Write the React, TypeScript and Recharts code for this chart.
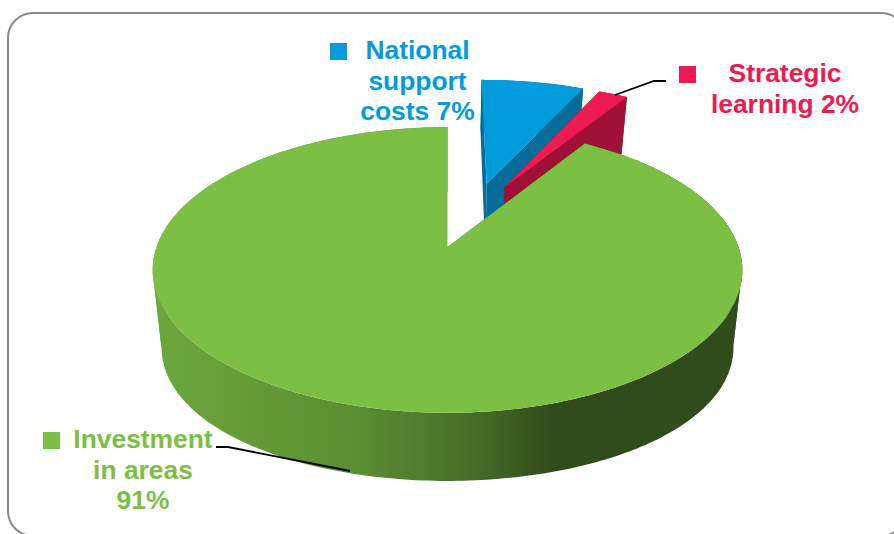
import { PieChart, Pie } from 'recharts'

const SLICE_NAMES = ['National support costs', 'Strategic learning', 'Investment in areas']
const SLICE_VALUES = [7, 2, 91]
const SLICE_COLORS = ['#009cdc', '#ed1b51', '#7bc043']
const SIDE_COLORS = ['#066d9b', '#a00f36', 'url(#greenWall)']

// label lines, one list per slice
const LABEL_LINES = [
  ['National', 'support', 'costs 7%'],
  ['Strategic', 'learning 2%'],
  ['Investment', 'in areas', '91%'],
]
const LABEL_LAYOUT = [
  { x: 417.5, y: 59, swatchX: 330, swatchY: 43, step: 30.5 },
  { x: 785, y: 82, swatchX: 679, swatchY: 66, step: 31 },
  { x: 143, y: 448, swatchX: 43, swatchY: 432, step: 30.5 },
]
const LEADERS = ['', '615,95 654,81 666,81', '216,447 228,447 350,471']

// how far each slice is pulled out of the pie, in radius units
const EXPLODE = [
  { u: 0.145, v: 0.49 },
  { u: 0.21, v: 0.46 },
  { u: 0, v: 0 },
]

// tilted-disc projection
const ASPECT = 0.478
const PERSPECTIVE = 0.161
const SHRINK = 0.03

// wall height is tallest just in front of the widest point and falls off both ways
const wallHeight = (v: number) => 78 - 10 * (v + 0.3) * (v + 0.3)

const tableData = SLICE_NAMES.map((name, i) => ({ name, value: SLICE_VALUES[i] }))

function makeProjector(cx: number, cy: number, r: number, offset: { u: number; v: number }) {
  return (u: number, v: number, z: number) => {
    const pu = u + offset.u
    const pv = v + offset.v
    const w = 1 + PERSPECTIVE * pv
    const s = 1 - SHRINK * z
    const x = cx + (r * pu * s) / w
    const y = cy - (r * ASPECT * pv * s) / w + wallHeight(pv) * z
    return `${x.toFixed(1)},${y.toFixed(1)}`
  }
}

function Slice3D(props: any) {
  const { cx, cy, outerRadius, startAngle, endAngle, name } = props
  const i = SLICE_NAMES.indexOf(name ?? props.payload?.name)
  const offset = EXPLODE[i]
  const p = makeProjector(cx, cy, outerRadius, offset)

  // recharts angles run counter-clockwise from 3 o'clock
  const from = 90 - startAngle
  const to = 90 - endAngle
  const arc: [number, number][] = []
  const steps = Math.max(2, Math.ceil(to - from))
  for (let k = 0; k <= steps; k++) {
    const t = ((from + ((to - from) * k) / steps) * Math.PI) / 180
    arc.push([Math.sin(t), Math.cos(t)])
  }
  const first = arc[0]
  const last = arc[arc.length - 1]

  // the outer wall winds the other way past the widest point, so each stretch gets its own polygon
  const runs: [number, number][][] = []
  let facing: boolean | null = null
  arc.forEach((pt, k) => {
    const front = pt[1] + offset.v < -PERSPECTIVE
    if (front !== facing) {
      runs.push(k > 0 ? [arc[k - 1]] : [])
      facing = front
    }
    runs[runs.length - 1].push(pt)
  })

  const top = [p(0, 0, 0), ...arc.map(([u, v]) => p(u, v, 0))].join(' ')
  const faceA = [p(0, 0, 0), p(first[0], first[1], 0), p(first[0], first[1], 1), p(0, 0, 1)].join(' ')
  const faceB = [p(0, 0, 0), p(last[0], last[1], 0), p(last[0], last[1], 1), p(0, 0, 1)].join(' ')

  return (
    <g>
      <polygon points={faceA} fill={SIDE_COLORS[i]} />
      <polygon points={faceB} fill={SIDE_COLORS[i]} />
      {runs.map((run, k) => (
        <polygon
          key={k}
          points={[...run.map(([u, v]) => p(u, v, 0)), ...[...run].reverse().map(([u, v]) => p(u, v, 1))].join(' ')}
          fill={SIDE_COLORS[i]}
        />
      ))}
      <polygon points={top} fill={SLICE_COLORS[i]} />
    </g>
  )
}

function SliceLabel(props: any) {
  const i = props.index
  const layout = LABEL_LAYOUT[i]
  return (
    <g>
      {LEADERS[i] && <polyline points={LEADERS[i]} fill="none" stroke="#000" strokeWidth={1.8} />}
      <rect x={layout.swatchX} y={layout.swatchY} width={17} height={17} fill={SLICE_COLORS[i]} />
      {LABEL_LINES[i].map((line, k) => (
        <text
          key={line}
          x={layout.x}
          y={layout.y + k * layout.step}
          textAnchor="middle"
          fill={SLICE_COLORS[i]}
          fontFamily="'Liberation Sans', Arial, sans-serif"
          fontWeight={700}
          fontSize={26.4}
        >
          {line}
        </text>
      ))}
    </g>
  )
}

export default function App() {
  return (
    <div style={{ position: 'fixed', left: 0, top: 0, width: 894, height: 534, overflow: 'hidden', background: '#fff' }}>
      {/* panel frame runs off the right and bottom edges */}
      <div
        style={{
          position: 'absolute',
          left: 7,
          top: 12,
          width: 900,
          height: 525,
          border: '2px solid #8a8a8a',
          borderRadius: 26,
          boxSizing: 'border-box',
        }}
      />
      <div style={{ position: 'absolute', left: 0, top: 0 }}>
        <PieChart width={894} height={534} margin={{ top: 0, right: 0, bottom: 0, left: 0 }}>
          <defs>
            <linearGradient id="greenWall" gradientUnits="userSpaceOnUse" x1={155} y1={0} x2={740} y2={0}>
              <stop offset="0" stopColor="#6ca83b" />
              <stop offset="0.35" stopColor="#5a8d31" />
              <stop offset="0.55" stopColor="#466c26" />
              <stop offset="0.68" stopColor="#304c1b" />
              <stop offset="1" stopColor="#304c1b" />
            </linearGradient>
          </defs>
          <Pie
            data={tableData}
            dataKey="value"
            nameKey="name"
            cx={447.5}
            cy={247}
            outerRadius={291}
            startAngle={90}
            endAngle={-270}
            paddingAngle={0}
            stroke="none"
            shape={Slice3D}
            label={SliceLabel}
            labelLine={false}
            isAnimationActive={false}
          />
        </PieChart>
      </div>
    </div>
  )
}
